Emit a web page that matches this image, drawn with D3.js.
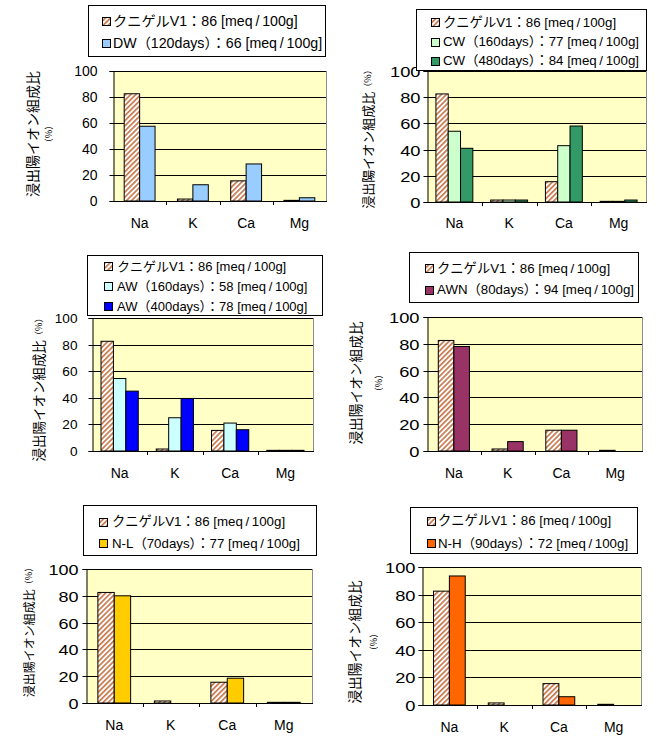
<!DOCTYPE html>
<html>
<head>
<meta charset="utf-8">
<script src="https://cdn.jsdelivr.net/npm/d3@7"></script>
<style>
  body { margin: 0; background: #fff; }
  svg { display: block; }
</style>
</head>
<body>
<svg id="chart" width="656" height="737"></svg>
<script>
// Leached cation composition (%) by element, for each water condition
const categories = ["Na", "K", "Ca", "Mg"];
const yTicks = [0, 20, 40, 60, 80, 100];
const yTitle = "浸出陽イオン組成比";
const yUnit = "（%）";

const kunigelLabel = "クニゲルV1：86 [meq\u2009/\u2009100g]";
const kunigelValues = [82.5, 1.5, 15.5, 0.5];

const dwLabel = "DW（120days）：66 [meq\u2009/\u2009100g]";
const dwValues = [57.5, 12.5, 28.5, 2.5];

const cw160Label = "CW（160days）：77 [meq\u2009/\u2009100g]";
const cw160Values = [54, 1.5, 43, 0.5];
const cw480Label = "CW（480days）：84 [meq\u2009/\u2009100g]";
const cw480Values = [41, 1.5, 58, 1.5];

const aw160Label = "AW（160days）：58 [meq\u2009/\u2009100g]";
const aw160Values = [54.5, 25, 21, 0.5];
const aw400Label = "AW（400days）：78 [meq\u2009/\u2009100g]";
const aw400Values = [45, 39.5, 16, 0.5];

const awnLabel = "AWN（80days）：94 [meq\u2009/\u2009100g]";
const awnValues = [78, 7, 15.5, 0];

const nlLabel = "N-L（70days）：77 [meq\u2009/\u2009100g]";
const nlValues = [80, 0, 18.5, 0.5];

const nhLabel = "N-H（90days）：72 [meq\u2009/\u2009100g]";
const nhValues = [93.5, 0, 6, 0];

const HATCH = "url(#hatch)";
const GAP = 1.45;          // gap between groups, as a multiple of one bar width
const LATIN = "'Liberation Sans', Arial, 'Noto Sans CJK JP', sans-serif";
const CJK = "'Noto Sans CJK JP', 'Liberation Sans', sans-serif";

const kunigel = { label: kunigelLabel, values: kunigelValues, fill: HATCH };

const panels = [
  {
    series: [kunigel, { label: dwLabel, values: dwValues, fill: "#99CCFF" }],
    plot: { left: 113, right: 326, top: 71, bottom: 201 },
    tick: { font: 14, stretch: 1.0, gap: 16 },
    xLabelY: 223,
    legend: { x: 88, y: 5, w: 237, h: 51, firstRow: 16, rowStep: 22.3, swatchX: 102, textX: 113, font: 14.2 },
    title: { x: 32, cy: 134, font: 14, pctX: 48 }
  },
  {
    series: [kunigel,
      { label: cw160Label, values: cw160Values, fill: "#CCFFCC" },
      { label: cw480Label, values: cw480Values, fill: "#339966" }],
    plot: { left: 427, right: 646, top: 71, bottom: 202 },
    tick: { font: 15, stretch: 1.22, gap: 7 },
    xLabelY: 223,
    legend: { x: 416, y: 9, w: 230, h: 61, firstRow: 13.3, rowStep: 19.3, swatchX: 431, textX: 443, font: 13.3 },
    title: { x: 367, cy: 137, font: 13, pctX: null }
  },
  {
    series: [kunigel,
      { label: aw160Label, values: aw160Values, fill: "#CCFFFF" },
      { label: aw400Label, values: aw400Values, fill: "#0000FF" }],
    plot: { left: 92, right: 313, top: 318, bottom: 451 },
    tick: { font: 13, stretch: 1.05, gap: 15 },
    xLabelY: 473,
    legend: { x: 87, y: 255, w: 235, h: 60, firstRow: 11, rowStep: 20, swatchX: 104, textX: 117, font: 13 },
    title: { x: 37.5, cy: 387.5, font: 13.5, pctX: null }
  },
  {
    series: [kunigel, { label: awnLabel, values: awnValues, fill: "#993366" }],
    plot: { left: 427, right: 642, top: 317, bottom: 451 },
    tick: { font: 15, stretch: 1.22, gap: 8 },
    xLabelY: 473,
    legend: { x: 409, y: 252, w: 229, h: 50, firstRow: 16, rowStep: 21.7, swatchX: 425, textX: 437, font: 13.3 },
    title: { x: 355, cy: 383, font: 13.7, pctX: 378 }
  },
  {
    series: [kunigel, { label: nlLabel, values: nlValues, fill: "#FFCC00" }],
    plot: { left: 86, right: 312, top: 569, bottom: 703 },
    tick: { font: 15, stretch: 1.2, gap: 8 },
    xLabelY: 725,
    legend: { x: 83, y: 505, w: 233, h: 50, firstRow: 16.7, rowStep: 21.6, swatchX: 99, textX: 112, font: 13.3 },
    title: { x: 28.3, cy: 630, font: 12, pctX: null }
  },
  {
    series: [kunigel, { label: nhLabel, values: nhValues, fill: "#FF6600" }],
    plot: { left: 422, right: 641, top: 567, bottom: 705 },
    tick: { font: 15, stretch: 1.22, gap: 7 },
    xLabelY: 727,
    legend: { x: 410, y: 507, w: 227, h: 46, firstRow: 13.7, rowStep: 22.3, swatchX: 427, textX: 438, font: 13.3 },
    title: { x: 353.5, cy: 642, font: 13.7, pctX: 373 }
  }
];

const svg = d3.select("#chart");

// diagonal hatch used for the クニゲルV1 reference bars
const pat = svg.append("defs").append("pattern")
  .attr("id", "hatch")
  .attr("patternUnits", "userSpaceOnUse")
  .attr("width", 3.6).attr("height", 10)
  .attr("patternTransform", "rotate(45)");
pat.append("rect").attr("width", 3.6).attr("height", 10).attr("fill", "#fff");
pat.append("rect").attr("width", 1.7).attr("height", 10).attr("fill", "#C97A4F");

const crisp = v => Math.round(v) + 0.5;

panels.forEach(p => {
  const g = svg.append("g");
  const { left, right, top, bottom } = p.plot;

  const x0 = d3.scaleBand().domain(categories).range([left, right]);
  const n = p.series.length;
  const bw = x0.bandwidth() / (n + GAP);
  const x1 = d3.scaleBand().domain(d3.range(n)).range([0, n * bw]);
  const off = (x0.bandwidth() - n * bw) / 2;
  const y = d3.scaleLinear().domain([0, 100]).range([bottom, top]);

  // plot background
  g.append("rect")
    .attr("x", left).attr("y", top)
    .attr("width", right - left).attr("height", bottom - top)
    .attr("fill", "#FFFFC6");

  // right border
  g.append("line")
    .attr("x1", crisp(right)).attr("x2", crisp(right))
    .attr("y1", top).attr("y2", bottom)
    .attr("stroke", "#8c8c8c");

  // horizontal gridlines
  g.selectAll(".grid").data(yTicks.filter(t => t > 0)).join("line")
    .attr("x1", left).attr("x2", right)
    .attr("y1", d => crisp(y(d))).attr("y2", d => crisp(y(d)))
    .attr("stroke", "#000").attr("stroke-width", 1);

  // bars
  p.series.forEach((s, i) => {
    g.append("g").selectAll("rect")
      .data(categories.map((c, j) => ({ c, v: s.values[j] })).filter(d => d.v > 0))
      .join("rect")
      .attr("x", d => x0(d.c) + off + x1(i))
      .attr("y", d => y(d.v))
      .attr("width", x1.bandwidth())
      .attr("height", d => y(0) - y(d.v))
      .attr("fill", s.fill)
      .attr("stroke", "#000").attr("stroke-width", 1);
  });

  // y axis
  const yAxis = d3.axisLeft(y).tickValues(yTicks).tickSize(4).tickPadding(p.tick.gap - 4)
    .tickFormat(d3.format("d"));
  const ya = g.append("g").attr("transform", `translate(${crisp(left)},0)`).call(yAxis);
  ya.select(".domain").attr("stroke", "#000");
  ya.selectAll(".tick line").attr("stroke", "#000");
  ya.selectAll(".tick").attr("transform", d => `translate(0,${crisp(y(d))})`);
  ya.selectAll(".tick text")
    .attr("font-family", LATIN).attr("font-size", p.tick.font).attr("fill", "#000")
    .attr("dy", "0.35em")
    .attr("transform", `translate(${-(p.tick.gap)},0) scale(${p.tick.stretch},1)`)
    .attr("x", 0);

  // x axis: baseline, boundary ticks, category labels
  g.append("line")
    .attr("x1", left).attr("x2", right + 1)
    .attr("y1", crisp(bottom)).attr("y2", crisp(bottom))
    .attr("stroke", "#000");
  const bounds = categories.slice(1).map(c => x0(c));
  g.selectAll(".xtick").data(bounds).join("line")
    .attr("x1", d => crisp(d)).attr("x2", d => crisp(d))
    .attr("y1", bottom).attr("y2", bottom + 4)
    .attr("stroke", "#000");
  g.selectAll(".xlabel").data(categories).join("text")
    .attr("x", d => x0(d) + x0.bandwidth() / 2)
    .attr("y", p.xLabelY)
    .attr("text-anchor", "middle").attr("dominant-baseline", "central")
    .attr("font-family", LATIN).attr("font-size", 14).attr("fill", "#000")
    .text(d => d);

  // y axis title (rotated)
  const t = p.title;
  if (t.pctX != null) {
    g.append("text")
      .attr("transform", `translate(${t.x},${t.cy}) rotate(-90)`)
      .attr("text-anchor", "middle").attr("dominant-baseline", "central")
      .attr("font-family", CJK).attr("font-size", t.font).attr("fill", "#000")
      .text(yTitle);
    g.append("text")
      .attr("transform", `translate(${t.pctX},${t.cy}) rotate(-90)`)
      .attr("text-anchor", "middle").attr("dominant-baseline", "central")
      .attr("font-family", CJK).attr("font-size", 9).attr("fill", "#000")
      .text(yUnit);
  } else {
    const tt = g.append("text")
      .attr("transform", `translate(${t.x},${t.cy}) rotate(-90)`)
      .attr("text-anchor", "middle").attr("dominant-baseline", "central")
      .attr("font-family", CJK).attr("fill", "#000");
    tt.append("tspan").attr("font-size", t.font).text(yTitle);
    tt.append("tspan").attr("font-size", 9).text(yUnit);
  }

  // legend
  const L = p.legend;
  const lg = g.append("g");
  lg.append("rect")
    .attr("x", crisp(L.x)).attr("y", crisp(L.y))
    .attr("width", Math.round(L.w)).attr("height", Math.round(L.h))
    .attr("fill", "#fff").attr("stroke", "#000");
  p.series.forEach((s, i) => {
    const cy = L.y + L.firstRow + i * L.rowStep;
    lg.append("rect")
      .attr("x", crisp(L.swatchX)).attr("y", crisp(cy - 4))
      .attr("width", 8).attr("height", 8)
      .attr("fill", s.fill).attr("stroke", "#000");
    lg.append("text")
      .attr("x", L.textX).attr("y", cy)
      .attr("dominant-baseline", "central")
      .attr("font-family", LATIN).attr("font-size", L.font).attr("fill", "#000")
      .text(s.label);
  });
});
</script>
</body>
</html>
